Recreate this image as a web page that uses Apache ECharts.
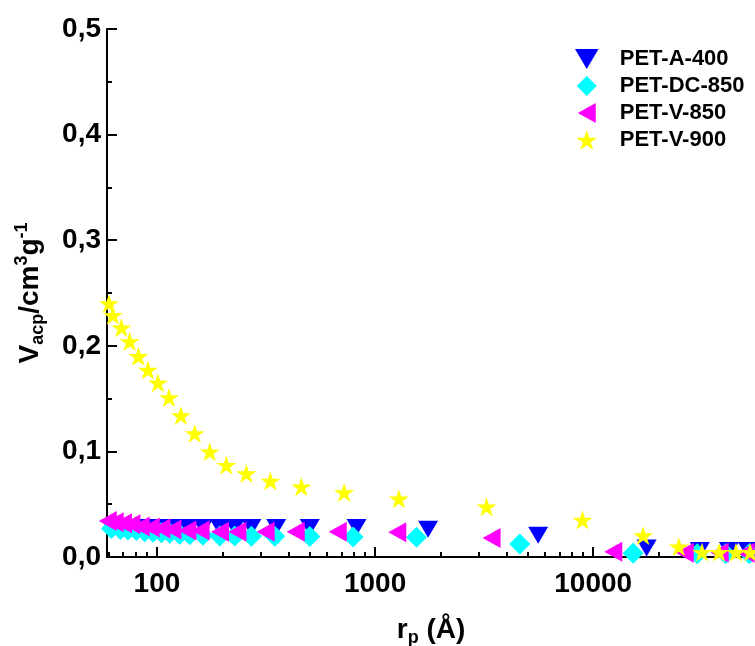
<!DOCTYPE html>
<html>
<head>
<meta charset="utf-8">
<script src="https://cdn.jsdelivr.net/npm/echarts@6/dist/echarts.min.js"></script>
<style>
html, body { margin: 0; padding: 0; background: #fff; overflow: hidden; }
#chart { width: 755px; height: 646px; }
</style>
</head>
<body>
<div id="chart"></div>
<script>
// pore radius r_p (Å) and cumulative volume V_acp (cm3/g)
const xMajor = [100, 1000, 10000]
const xMinor = [60, 70, 80, 90, 200, 300, 400, 500, 600, 700, 800, 900,
  2000, 3000, 4000, 5000, 6000, 7000, 8000, 9000, 20000, 30000, 40000, 50000]

const seriesNames = ['PET-A-400', 'PET-DC-850', 'PET-V-850', 'PET-V-900']

const a400X = [61.8, 67.9, 73.6, 80.4, 87.8, 95.9, 104.8, 114.4, 127.1, 141.3, 162.6, 194, 227.2, 271, 352, 501.8, 822, 1750, 5594, 17580, 30830, 41900, 51200]
const a400Y = [0.028, 0.028, 0.028, 0.028, 0.028, 0.028, 0.028, 0.028, 0.028, 0.028, 0.028, 0.028, 0.028, 0.028, 0.028, 0.028, 0.028, 0.0262, 0.0205, 0.0085, 0.0062, 0.0062, 0.0062]

const dc850X = [61.8, 67.9, 73.6, 80.4, 87.8, 95.9, 104.8, 114.4, 127.1, 141.3, 162.6, 194, 227.2, 271, 346.7, 501.8, 793, 1549, 4610, 15250, 30000, 40500, 52000]
const dc850Y = [0.027, 0.026, 0.0255, 0.025, 0.024, 0.0235, 0.023, 0.0225, 0.0215, 0.021, 0.0205, 0.02, 0.0198, 0.0197, 0.0197, 0.0195, 0.019, 0.0188, 0.0123, 0.0035, 0.003, 0.003, 0.003]

const v850X = [59.5, 64.0, 69.8, 76.3, 84.2, 93.6, 104.8, 117.7, 137.8, 158.5, 194.5, 233.7, 315, 432.7, 674.5, 1264, 3420, 12360, 26300, 38000, 50000]
const v850Y = [0.034, 0.033, 0.032, 0.031, 0.029, 0.028, 0.027, 0.026, 0.025, 0.025, 0.024, 0.024, 0.024, 0.024, 0.024, 0.0235, 0.018, 0.005, 0.004, 0.004, 0.004]

const v900X = [60.2, 62.8, 68.7, 74.9, 82.2, 90.9, 101, 113.5, 128.7, 148.9, 174.5, 208, 257, 331, 459, 721, 1285, 3243, 8935, 16950, 24700, 31550, 37760, 45150, 52400]
const v900Y = [0.240, 0.229, 0.217, 0.204, 0.190, 0.177, 0.165, 0.151, 0.134, 0.117, 0.0997, 0.087, 0.079, 0.072, 0.0666, 0.061, 0.0552, 0.0476, 0.035, 0.0204, 0.0098, 0.0045, 0.0045, 0.0045, 0.0045]

const font = 'Arial, "Liberation Sans", sans-serif'

const triDown = 'path://M0,0L20,0L10,17Z'
const diamond = 'path://M10,0L20,10L10,20L0,10Z'
const triLeft = 'path://M0,10L18,0L18,20Z'
const star = 'path://M10,0L12.245,6.91L19.511,6.91L13.633,11.18L15.878,18.09L10,13.82L4.122,18.09L6.367,11.18L0.489,6.91L7.755,6.91Z'

function pairs(xs, ys) {
  return xs.map((x, i) => [x, ys[i]])
}

function makeSeries(name, xs, ys, symbol, size, color) {
  return {
    name: name,
    type: 'scatter',
    data: pairs(xs, ys),
    symbol: symbol,
    symbolSize: size,
    symbolKeepAspect: true,
    itemStyle: { color: color, opacity: 1 },
    emphasis: { disabled: true }
  }
}

let myChart = echarts.init(document.getElementById('chart'))
let axisColor = '#000'
let option = {
  animation: false,
  backgroundColor: '#fff',
  grid: {
    left: 107,
    right: 0,
    top: 29,
    bottom: 89,
    containLabel: false,
    outerBoundsMode: 'none'
  },
  legend: {
    data: seriesNames,
    orient: 'vertical',
    left: 570,
    top: 43,
    itemWidth: 56,
    itemHeight: 20,
    itemGap: 5,
    symbolKeepAspect: true,
    textStyle: {
      fontFamily: font,
      fontWeight: 'bold',
      fontSize: 22,
      color: '#000'
    }
  },
  xAxis: [
    {
      type: 'log',
      logBase: 10,
      min: 59,
      max: 55200,
      name: '{a|r}{b|p}{a| (Å)}',
      nameLocation: 'middle',
      nameGap: 56,
      nameTextStyle: {
        rich: {
          a: { fontFamily: font, fontWeight: 'bold', fontSize: 28, color: '#000', lineHeight: 34 },
          b: { fontFamily: font, fontWeight: 'bold', fontSize: 18, color: '#000', verticalAlign: 'bottom', lineHeight: 34 }
        }
      },
      axisLine: { lineStyle: { color: axisColor, width: 2 } },
      axisTick: {
        inside: true,
        length: 10,
        customValues: xMajor,
        lineStyle: { color: axisColor, width: 2 }
      },
      axisLabel: {
        customValues: xMajor,
        margin: 13,
        fontFamily: font,
        fontWeight: 'bold',
        fontSize: 28,
        color: '#000',
        formatter: function(v) {
          return String(Math.round(v))
        }
      },
      splitLine: { show: false }
    },
    {
      type: 'log',
      logBase: 10,
      min: 59,
      max: 55200,
      position: 'bottom',
      offset: 0,
      axisLine: { show: false },
      axisTick: {
        inside: true,
        length: 5,
        customValues: xMinor,
        lineStyle: { color: axisColor, width: 2 }
      },
      axisLabel: { show: false },
      splitLine: { show: false }
    }
  ],
  yAxis: {
    type: 'value',
    min: 0,
    max: 0.5,
    interval: 0.1,
    name: '{a|V}{b|acp}{a|/cm}{c|3}{a|g}{c|-1}',
    nameLocation: 'middle',
    nameRotate: 90,
    nameGap: 60,
    nameTextStyle: {
      rich: {
        a: { fontFamily: font, fontWeight: 'bold', fontSize: 28, color: '#000', lineHeight: 34 },
        b: { fontFamily: font, fontWeight: 'bold', fontSize: 18, color: '#000', verticalAlign: 'bottom', lineHeight: 34 },
        c: { fontFamily: font, fontWeight: 'bold', fontSize: 18, color: '#000', verticalAlign: 'top', lineHeight: 34 }
      }
    },
    axisLine: { show: true, lineStyle: { color: axisColor, width: 2 } },
    axisTick: {
      show: true,
      inside: true,
      length: 10,
      lineStyle: { color: axisColor, width: 2 }
    },
    minorTick: {
      show: true,
      splitNumber: 2,
      length: 5,
      lineStyle: { color: axisColor, width: 2 }
    },
    axisLabel: {
      margin: 6,
      fontFamily: font,
      fontWeight: 'bold',
      fontSize: 28,
      color: '#000',
      formatter: function(v) {
        return v.toFixed(1).replace('.', ',')
      }
    },
    splitLine: { show: false },
    minorSplitLine: { show: false }
  },
  series: [
    makeSeries(seriesNames[0], a400X, a400Y, triDown, 20, '#0000ff'),
    makeSeries(seriesNames[1], dc850X, dc850Y, diamond, 21, '#00ffff'),
    makeSeries(seriesNames[2], v850X, v850Y, triLeft, 20, '#ff00ff'),
    makeSeries(seriesNames[3], v900X, v900Y, star, 20, '#ffff00')
  ]
}
myChart.setOption(option)
window.addEventListener('resize', function() {
  myChart.resize()
})
</script>
</body>
</html>
